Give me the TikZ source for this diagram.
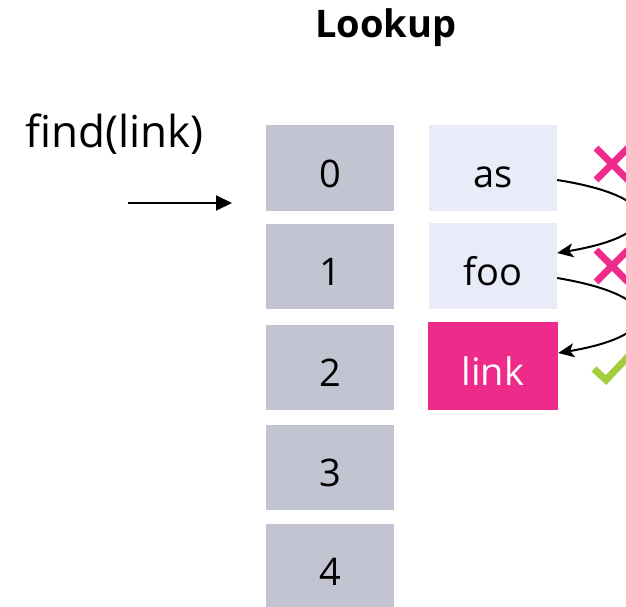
\documentclass[tikz,border=0pt]{standalone}
\usepackage{fontspec}
\setmainfont{Open Sans}
\usetikzlibrary{arrows.meta}
\definecolor{slotgray}{HTML}{C2C4D2}
\definecolor{keypale}{HTML}{E9EBF8}
\definecolor{hitpink}{HTML}{EE2A8A}
\definecolor{okgreen}{HTML}{A3CD3B}
\tikzset{
  slot/.style={fill=slotgray, minimum width=128pt, minimum height=85pt, inner sep=0pt,
    text height=39pt, text depth=0pt, font=\fontsize{38}{42}\selectfont},
  keybox/.style={fill=keypale, minimum width=128pt, minimum height=86pt, inner sep=0pt,
    text height=39pt, text depth=0pt, font=\fontsize{38}{42}\selectfont},
  hitbox/.style={keybox, fill=hitpink, text=white, minimum width=130pt, minimum height=88pt},
  ptrtip/.tip={Triangle[length=16pt,width=15pt]},
  probetip/.tip={Stealth[length=16pt,width=14pt,inset=4pt]},
  ptr/.style={line width=2pt, arrows={-ptrtip}},
  probe/.style={line width=2pt, arrows={-probetip}},
  miss/.style={draw=hitpink, line width=7pt},
  okmark/.style={draw=okgreen, line width=7pt, line join=miter}
}
\begin{document}
\begin{tikzpicture}[x=1pt,y=-1pt]
\useasboundingbox (0,0) rectangle (626,607);
\clip (0,0) rectangle (626,607);

\node[anchor=base, font=\bfseries\fontsize{38}{44}\selectfont] (title) at (386,38) {Lookup};
\node[anchor=base west, inner sep=0pt, font=\fontsize{44}{50}\selectfont] (call) at (25,147) {find(link)};
\coordinate (callfrom) at (128,203);
\coordinate (callto) at (232,203);
\draw[ptr] (callfrom) -- (callto);

% hash table slots
\node[slot] (s0) at (330,168) {0};
\node[slot] (s1) at (330,266) {1};
\node[slot] (s2) at (330,367) {2};
\node[slot] (s3) at (330,467) {3};
\node[slot] (s4) at (330,566) {4};

% keys probed in order
\node[keybox] (kas) at (493,168) {as};
\node[keybox] (kfoo) at (493,266) {foo};
\node[hitbox] (klink) at (493,366) {link};

% probe arcs from one key to the next
\draw[probe] ([yshift=-12pt]kas.east) .. controls (665,197) and (665,235) .. ([yshift=13pt]kfoo.east);
\draw[probe] ([yshift=-12pt]kfoo.east) .. controls (665,296) and (665,335) .. ([yshift=13pt]klink.east);

% comparison results
\coordinate (x1) at (612,164);
\coordinate (x2) at (612,266);
\draw[miss] ([shift={(-16,-16)}]x1) -- ([shift={(16,16)}]x1) ([shift={(-16,16)}]x1) -- ([shift={(16,-16)}]x1);
\draw[miss] ([shift={(-16,-16)}]x2) -- ([shift={(16,16)}]x2) ([shift={(-16,16)}]x2) -- ([shift={(16,-16)}]x2);
\coordinate (ck) at (606,380);
\draw[okmark] ([shift={(-12,-11)}]ck) -- (ck) -- ([shift={(34,-36)}]ck);
\end{tikzpicture}
\end{document}
